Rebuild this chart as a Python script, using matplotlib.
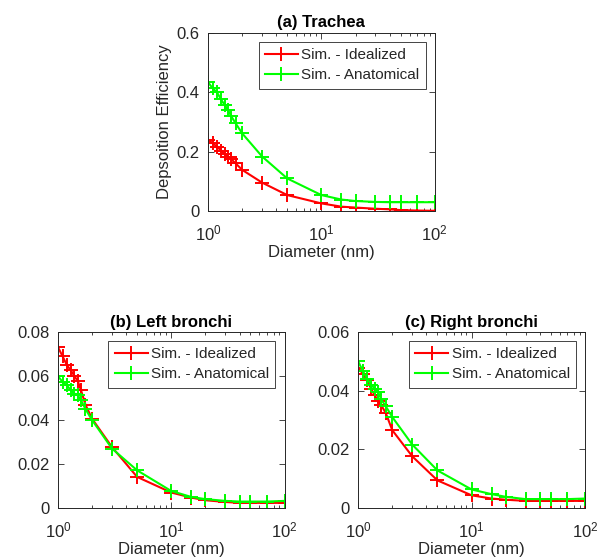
import matplotlib.pyplot as plt
import numpy as np
from matplotlib.ticker import LogLocator, FixedLocator

plt.rcParams['font.family'] = ['Liberation Sans', 'DejaVu Sans']

# particle diameters (nm)
diam = [1, 1.1, 1.2, 1.3, 1.4, 1.5, 1.6, 1.75, 2, 3, 5, 10, 15, 20, 30, 40, 50, 70, 100]

# (a) Trachea
trachea_ideal = [0.240, 0.229, 0.217, 0.204, 0.193, 0.184, 0.175, 0.161, 0.139, 0.096, 0.054,
                 0.026, 0.015, 0.012, 0.008, 0.006, 0.0035, 0.002, 0.001]
trachea_anat = [0.434, 0.414, 0.400, 0.377, 0.358, 0.341, 0.320, 0.296, 0.262, 0.184, 0.110,
                0.054, 0.039, 0.034, 0.031, 0.030, 0.030, 0.030, 0.030]

# (b) Left bronchi
left_ideal = [0.0732, 0.069, 0.065, 0.0626, 0.060, 0.0576, 0.0535, 0.047, 0.0406, 0.0277, 0.0141,
              0.0070, 0.0047, 0.0035, 0.0027, 0.0023, 0.0023, 0.0023, 0.0023]
left_anat = [0.060, 0.0573, 0.0558, 0.0535, 0.052, 0.0512, 0.049, 0.045, 0.040, 0.027, 0.0171,
             0.0077, 0.0050, 0.0040, 0.0032, 0.0029, 0.0029, 0.0029, 0.0032]

# (c) Right bronchi
right_ideal = [0.0478, 0.0458, 0.0435, 0.0407, 0.0384, 0.0365, 0.035, 0.0324, 0.0265, 0.0176, 0.0094,
               0.0043, 0.0032, 0.0028, 0.0024, 0.0024, 0.0024, 0.0024, 0.0024]
right_anat = [0.050, 0.0467, 0.044, 0.042, 0.0407, 0.0395, 0.037, 0.0347, 0.031, 0.0216, 0.0128,
              0.0063, 0.0047, 0.0038, 0.0030, 0.0030, 0.0030, 0.0030, 0.0032]

panels = [
    ('(a) Trachea', trachea_ideal, trachea_anat, [0, 0.2, 0.4, 0.6], ['0', '0.2', '0.4', '0.6'],
     [0.345, 0.623, 0.376, 0.318], True),
    ('(b) Left bronchi', left_ideal, left_anat, [0, 0.02, 0.04, 0.06, 0.08],
     ['0', '0.02', '0.04', '0.06', '0.08'], [0.096, 0.093, 0.376, 0.314], False),
    ('(c) Right bronchi', right_ideal, right_anat, [0, 0.02, 0.04, 0.06],
     ['0', '0.02', '0.04', '0.06'], [0.594, 0.093, 0.376, 0.314], False),
]

fig = plt.figure(figsize=(6.03, 5.60), dpi=100)
txt = '#262626'
for title, ideal, anat, yt, ytl, pos, ylab in panels:
    ax = fig.add_axes(pos)
    ax.plot(diam, ideal, color='#ff0000', marker='+', ms=9.5, mew=1.4, lw=1.5, label='Sim. - Idealized')
    ax.plot(diam, anat, color='#00ff00', marker='+', ms=9.5, mew=1.4, lw=1.5, label='Sim. - Anatomical')
    ax.set_xscale('log')
    ax.set_xlim(1, 100)
    ax.set_ylim(yt[0], yt[-1])
    ax.set_yticks(yt)
    ax.set_yticklabels(ytl)
    ax.xaxis.set_major_locator(FixedLocator([1, 10, 100]))
    ax.xaxis.set_minor_locator(LogLocator(base=10, subs=np.arange(2, 10)))
    ax.tick_params(which='both', direction='in', top=True, right=True, colors=txt,
                   labelsize=12, length=4, width=0.6)
    ax.tick_params(which='minor', length=2.5)
    ax.tick_params(axis='x', pad=9)
    ax.tick_params(axis='y', pad=6)
    for s in ax.spines.values():
        s.set_color(txt)
        s.set_linewidth(0.7)
    ax.set_title(title, fontsize=12, fontweight='bold', pad=4, color='black')
    ax.set_xlabel('Diameter (nm)', fontsize=12, color=txt, labelpad=1)
    if ylab:
        ax.set_ylabel('Depsoition Efficiency', fontsize=12, color=txt, labelpad=3)
    leg = ax.legend(loc='upper right', fontsize=11, fancybox=False, framealpha=1,
                    edgecolor=txt, borderpad=0.4, labelspacing=0.4, handlelength=2.2,
                    handletextpad=0.2, borderaxespad=0.6)
    leg.get_frame().set_linewidth(0.6)
    for t in leg.get_texts():
        t.set_color(txt)

plt.savefig('out.png', dpi=100)
